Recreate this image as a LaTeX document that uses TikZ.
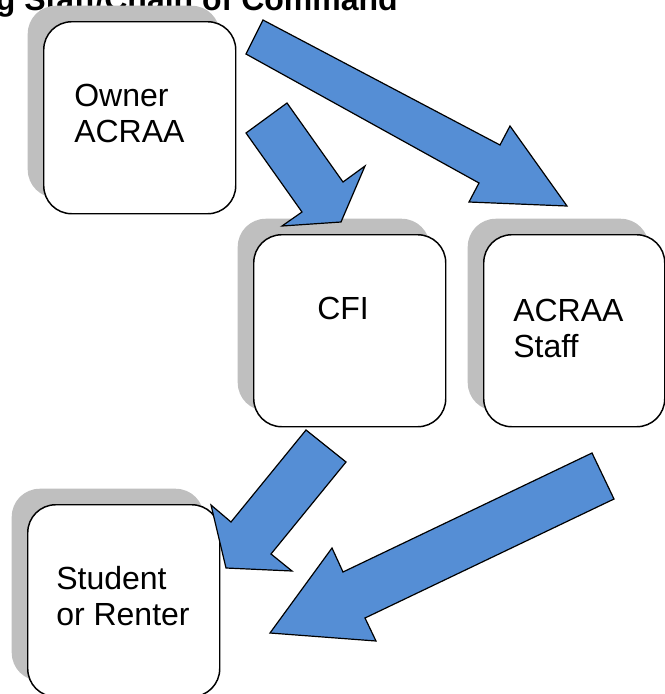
\documentclass[tikz,border=0pt]{standalone}
\usepackage{fontspec}
\setmainfont{Liberation Sans}
\usetikzlibrary{calc,shadows}
\definecolor{ccink}{HTML}{000000}
\definecolor{ccblue}{HTML}{558ED5}
\definecolor{ccshade}{HTML}{BFBFBF}
\tikzset{
  cc box/.style={draw=ccink, line width=1.1pt, rounded corners=21pt, fill=white,
    minimum width=144pt, minimum height=144pt, anchor=north west, inner sep=0pt,
    drop shadow={shadow xshift=-12pt, shadow yshift=12pt, fill=ccshade, opacity=1}},
  cc text/.style={font=\fontsize{24}{27}\selectfont, align=left, anchor=base west, inner sep=0pt},
  cc title/.style={font=\fontsize{24}{27}\selectfont\bfseries, anchor=base east, inner sep=0pt},
  cc arrow/.style={draw=ccink, line width=0.9pt, fill=ccblue, line join=miter}
}

\begin{document}
\begin{tikzpicture}[x=0.75pt, y=-0.75pt]
  \useasboundingbox (0,0) rectangle (665,694);
  \clip (0,0) rectangle (665,694);

  \node[cc title] (title) at (398,10.5) {g Staff/Chain of Command};

  % rounded boxes with their grey shadows
  \node[cc box] (owner) at (43,21) {};
  \node[cc box] (cfi) at (253,234) {};
  \node[cc box, minimum width=135.75pt] (staff) at (483,234) {};
  \node[cc box] (student) at (27,504) {};

  % labels sit on the baseline of their last line
  \node[cc text] (ownerlbl) at ($(owner.north west)+(31,121)$) {Owner\\ACRAA};
  \node[cc text] (cfilbl) at ($(cfi.north west)+(64,85)$) {CFI};
  \node[cc text] (stafflbl) at ($(staff.north west)+(30,123)$) {ACRAA\\Staff};
  \node[cc text] (studentlbl) at ($(student.north west)+(29,121)$) {Student\\or Renter};

  % block arrows, drawn over the boxes
  \draw[cc arrow] (263,20) -- (500,145) -- (510,126) -- (567,206) -- (469,202) -- (479,183) -- (246,54) -- cycle;
  \draw[cc arrow] (287,103) -- (343,182) -- (365,166) -- (341,222) -- (282,226) -- (302,212) -- (246,133) -- cycle;
  \draw[cc arrow] (306,430) -- (346,462) -- (271,554) -- (292,571) -- (226,568) -- (211,505) -- (231,522) -- cycle;
  \draw[cc arrow] (592,453) -- (614,499) -- (365,618) -- (376,641) -- (270,633) -- (332,548) -- (343,572) -- cycle;
\end{tikzpicture}
\end{document}
